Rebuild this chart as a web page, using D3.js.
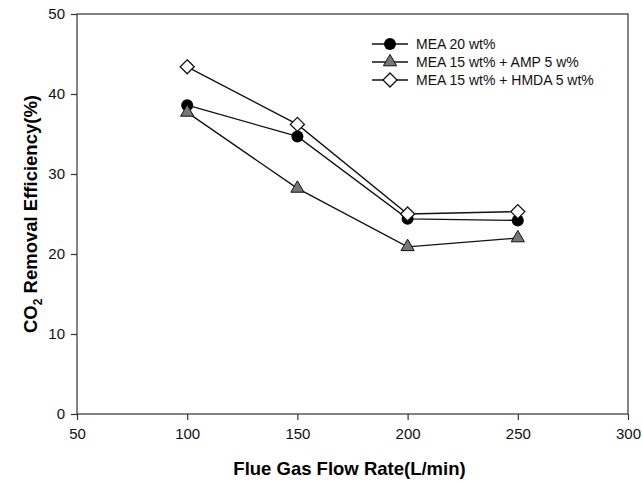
<!DOCTYPE html>
<html><head><meta charset="utf-8">
<script src="https://cdn.jsdelivr.net/npm/d3@7"></script>
<style>body{margin:0;background:#fff}svg{display:block;font-family:"Liberation Sans",Arial,sans-serif}</style>
</head><body><svg id="c" width="642" height="483"></svg>
<script>
const flowRates = [100, 150, 200, 250];
const mea20 = [38.6, 34.7, 24.4, 24.2];
const meaAmp = [37.7, 28.2, 20.9, 22.0];
const meaHmda = [43.4, 36.2, 25.0, 25.3];
const seriesNames = ["MEA 20 wt%", "MEA 15 wt% + AMP 5 w%", "MEA 15 wt% + HMDA 5 wt%"];
const xTicks = [50, 100, 150, 200, 250, 300];
const yTicks = [0, 10, 20, 30, 40, 50];

const svg = d3.select("#c");
const L = 77, R = 628, T = 14, B = 414;
const x = d3.scaleLinear().domain([50, 300]).range([L, R]);
const y = d3.scaleLinear().domain([0, 50]).range([B, T]);
const axisColor = "#333";

// frame
svg.append("rect").attr("x", L).attr("y", T).attr("width", R - L).attr("height", B - T)
  .attr("fill", "none").attr("stroke", axisColor).attr("stroke-width", 1.2);

const xa = svg.append("g").attr("transform", `translate(0,${B})`)
  .call(d3.axisBottom(x).tickValues(xTicks).tickSize(6).tickPadding(8).tickFormat(d3.format("d")));
const ya = svg.append("g").attr("transform", `translate(${L},0)`)
  .call(d3.axisLeft(y).tickValues(yTicks).tickSize(6).tickPadding(6).tickFormat(d3.format("d")));
[xa, ya].forEach(a => {
  a.select(".domain").remove();
  a.selectAll("line").attr("stroke", axisColor).attr("stroke-width", 1.2);
  a.selectAll("text").attr("font-size", 15).attr("fill", "#111").attr("font-family", "Liberation Sans, Arial, sans-serif");
});

// titles
svg.append("text").attr("x", (L + R) / 2 - 3).attr("y", 475).attr("text-anchor", "middle")
  .attr("font-size", 18.5).attr("font-weight", "bold").text("Flue Gas Flow Rate(L/min)");
const yt = svg.append("text").attr("transform", `translate(37,${(T + B) / 2}) rotate(-90)`)
  .attr("text-anchor", "middle").attr("font-size", 18.5).attr("font-weight", "bold");
yt.append("tspan").text("CO");
yt.append("tspan").attr("font-size", 12).attr("dy", 5).text("2");
yt.append("tspan").attr("dy", -5).text(" Removal Efficiency(%)");

const data = [
  {name: seriesNames[0], values: mea20, shape: "circle"},
  {name: seriesNames[1], values: meaAmp, shape: "triangle"},
  {name: seriesNames[2], values: meaHmda, shape: "diamond"}
];
const line = d3.line().x((d, i) => x(flowRates[i])).y(d => y(d));

function drawMarker(g, shape, cx, cy) {
  if (shape === "circle") {
    g.append("circle").attr("cx", cx).attr("cy", cy).attr("r", 6).attr("fill", "#000");
  } else if (shape === "triangle") {
    g.append("path").attr("d", d3.symbol(d3.symbolTriangle, 75)()).attr("transform", `translate(${cx},${cy})`)
      .attr("fill", "#777").attr("stroke", "#111").attr("stroke-width", 1);
  } else {
    g.append("path").attr("d", `M0,-7L7,0L0,7L-7,0Z`).attr("transform", `translate(${cx},${cy})`)
      .attr("fill", "#fff").attr("stroke", "#111").attr("stroke-width", 1.3);
  }
}

data.forEach(s => {
  svg.append("path").datum(s.values).attr("d", line).attr("fill", "none")
    .attr("stroke", "#111").attr("stroke-width", 1.3);
});
data.forEach(s => {
  const g = svg.append("g");
  s.values.forEach((v, i) => drawMarker(g, s.shape, x(flowRates[i]), y(v)));
});

// legend
const lg = svg.append("g");
data.forEach((s, i) => {
  const ly = 44 + i * 18;
  lg.append("line").attr("x1", 372).attr("x2", 408).attr("y1", ly).attr("y2", ly)
    .attr("stroke", "#111").attr("stroke-width", 1.3);
  drawMarker(lg, s.shape, 390, ly);
  lg.append("text").attr("x", 416).attr("y", ly + 5).attr("font-size", 14).attr("fill", "#111").text(s.name);
});
</script></body></html>
